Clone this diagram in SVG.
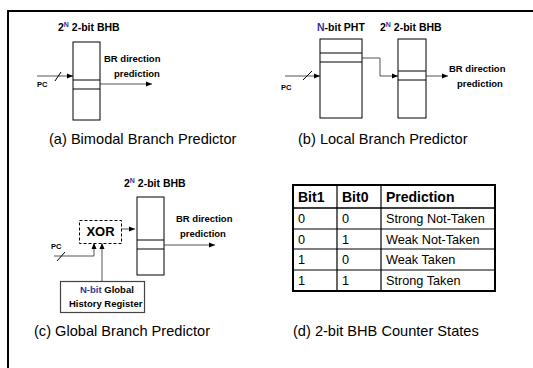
<svg xmlns="http://www.w3.org/2000/svg" width="533" height="368" viewBox="0 0 533 368">
<style>
  .t { font-family: "Liberation Sans", Arial, sans-serif; fill: #000; }
  .b { font-weight: bold; }
  .lbl { font-size: 9.5px; font-weight: bold; }
  .ttl { font-size: 10.5px; font-weight: bold; }
  .pc { font-size: 7.5px; font-weight: bold; }
  .cap { font-size: 14.6px; }
  .blue { fill: #333399; }
  .box { fill: #fff; stroke: #000; stroke-width: 1; }
  .arr { fill: none; stroke: #555; stroke-width: 1; marker-end: url(#ah); }
  .slash { stroke: #000; stroke-width: 1; }
  .cell { font-size: 12.7px; }
  .hdr { font-size: 14px; font-weight: bold; }
</style>
<defs>
  <marker id="ah" markerUnits="userSpaceOnUse" markerWidth="6" markerHeight="6" refX="6" refY="3" orient="auto">
    <path d="M0,0.5 L6,3 L0,5.5 z" fill="#000"/>
  </marker>
</defs>
<rect width="533" height="368" fill="#fff"/>
<g id="frame">
  <line x1="7" y1="11" x2="533" y2="11" stroke="#000" stroke-width="2"/>
  <line x1="8" y1="10" x2="8" y2="368" stroke="#000" stroke-width="2"/>
</g>

<g id="connectors">
  <!-- (a) -->
  <line class="arr" x1="37" y1="76" x2="73" y2="76"/>
  <line class="slash" x1="55" y1="81" x2="61" y2="72"/>
  <line class="arr" x1="100" y1="84" x2="152" y2="84"/>
  <!-- (b) -->
  <line class="arr" x1="285" y1="76" x2="320" y2="76"/>
  <line class="slash" x1="303" y1="80" x2="312" y2="71"/>
  <polyline class="arr" points="362,58 380,58 380,76 398,76"/>
  <line class="arr" x1="426" y1="76" x2="448" y2="76"/>
  <!-- (c) -->
  <line class="arr" x1="164" y1="245" x2="215" y2="245"/>
  <line class="arr" x1="122" y1="229" x2="135" y2="229"/>
  <polyline class="arr" points="54,256 94,256 94,243"/>
  <line class="slash" x1="57" y1="261" x2="65" y2="252"/>
  <line class="arr" x1="102" y1="281" x2="102" y2="243"/>
</g>

<g id="bimodal">
  <text class="t ttl" x="58" y="31">2<tspan class="blue" font-size="7" dy="-4">N</tspan><tspan dy="4"> 2-bit BHB</tspan></text>
  <rect class="box" x="73" y="42" width="27" height="78"/>
  <line stroke="#000" x1="73" y1="80" x2="100" y2="80"/>
  <line stroke="#000" x1="73" y1="89" x2="100" y2="89"/>
  <text class="t pc" x="37" y="87">PC</text>
  <text class="t lbl" x="104" y="62">BR direction</text>
  <text class="t lbl" x="114" y="77">prediction</text>
  <text class="t cap" x="49" y="144">(a) Bimodal Branch Predictor</text>
</g>

<g id="local">
  <text class="t ttl" x="317" y="31"><tspan class="blue">N</tspan>-bit PHT</text>
  <text class="t ttl" x="380" y="31">2<tspan class="blue" font-size="7" dy="-4">N</tspan><tspan dy="4"> 2-bit BHB</tspan></text>
  <rect class="box" x="320" y="39" width="42" height="79"/>
  <line stroke="#000" x1="320" y1="53" x2="362" y2="53"/>
  <line stroke="#000" x1="320" y1="62" x2="362" y2="62"/>
  <rect class="box" x="398" y="39" width="28" height="79"/>
  <line stroke="#000" x1="398" y1="71" x2="426" y2="71"/>
  <line stroke="#000" x1="398" y1="80" x2="426" y2="80"/>
  <text class="t pc" x="281" y="90">PC</text>
  <text class="t lbl" x="449" y="72">BR direction</text>
  <text class="t lbl" x="457" y="87">prediction</text>
  <text class="t cap" x="298" y="144">(b) Local Branch Predictor</text>
</g>

<g id="global">
  <text class="t ttl" x="124" y="187">2<tspan class="blue" font-size="7" dy="-4">N</tspan><tspan dy="4"> 2-bit BHB</tspan></text>
  <rect class="box" x="137" y="197" width="27" height="78"/>
  <line stroke="#000" x1="137" y1="240" x2="164" y2="240"/>
  <line stroke="#000" x1="137" y1="249" x2="164" y2="249"/>
  <text class="t lbl" x="176" y="222">BR direction</text>
  <text class="t lbl" x="180" y="237">prediction</text>
  <g id="xor">
    <rect x="79.5" y="220.5" width="42" height="23" fill="#fff" stroke="#000" stroke-dasharray="3,2"/>
    <text class="t b" font-size="13" x="100.5" y="236" text-anchor="middle">XOR</text>
  </g>
  <text class="t pc" x="51" y="249">PC</text>
  <g id="ghr">
    <rect x="60.5" y="281.5" width="84" height="31" fill="#fff" stroke="#444" stroke-width="1.2"/>
    <text class="t lbl" x="80" y="293"><tspan class="blue">N-bit</tspan> Global</text>
    <text class="t lbl" x="69" y="307">History Register</text>
  </g>
  <text class="t cap" x="34" y="336">(c) Global Branch Predictor</text>
</g>

<g id="table">
  <rect x="293" y="185" width="202" height="106" fill="#fff" stroke="#000" stroke-width="2"/>
  <g stroke="#000" stroke-width="1.2">
    <line x1="337" y1="185" x2="337" y2="291"/>
    <line x1="381" y1="185" x2="381" y2="291"/>
    <line x1="293" y1="208" x2="495" y2="208" stroke-width="1.5"/>
    <line x1="293" y1="229" x2="495" y2="229"/>
    <line x1="293" y1="249" x2="495" y2="249"/>
    <line x1="293" y1="270" x2="495" y2="270"/>
  </g>
  <text class="t hdr" x="298" y="202">Bit1</text>
  <text class="t hdr" x="342" y="202">Bit0</text>
  <text class="t hdr" x="386" y="202">Prediction</text>
  <text class="t cell" x="298" y="223">0</text>
  <text class="t cell" x="342" y="223">0</text>
  <text class="t cell" x="386" y="223">Strong Not-Taken</text>
  <text class="t cell" x="298" y="244">0</text>
  <text class="t cell" x="342" y="244">1</text>
  <text class="t cell" x="386" y="244">Weak Not-Taken</text>
  <text class="t cell" x="298" y="264">1</text>
  <text class="t cell" x="342" y="264">0</text>
  <text class="t cell" x="386" y="264">Weak Taken</text>
  <text class="t cell" x="298" y="285">1</text>
  <text class="t cell" x="342" y="285">1</text>
  <text class="t cell" x="386" y="285">Strong Taken</text>
  <text class="t cap" x="293" y="336">(d) 2-bit BHB Counter States</text>
</g>
</svg>
